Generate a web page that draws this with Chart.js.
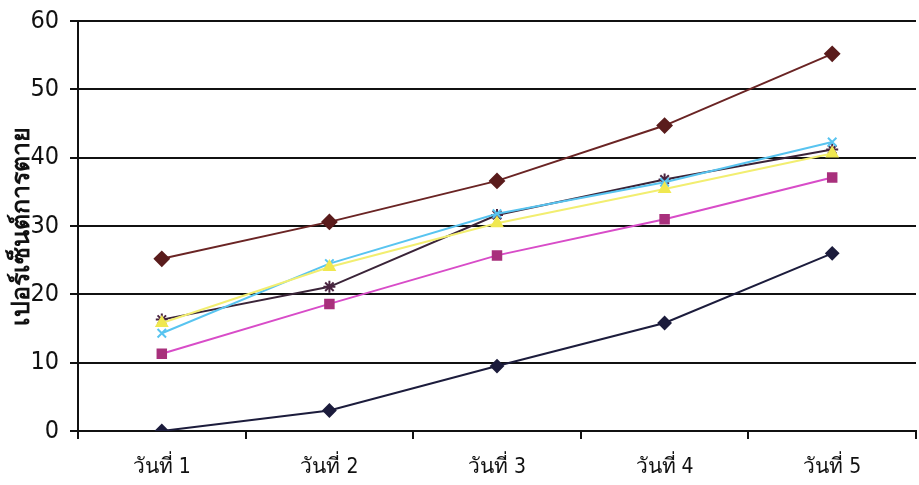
<!DOCTYPE html>
<html>
<head>
<meta charset="utf-8">
<script src="https://cdn.jsdelivr.net/npm/chart.js@4/dist/chart.umd.min.js"></script>
<style>
  html, body { margin: 0; padding: 0; background: #fff; overflow: hidden; }
  .wrap { position: relative; width: 925px; height: 485px; }
</style>
</head>
<body>
<div class="wrap"><canvas id="chart"></canvas></div>
<script>
// วันที่ 1-5, เปอร์เซ็นต์การตายของแต่ละชุด
const DAYS = ["วันที่ 1", "วันที่ 2", "วันที่ 3", "วันที่ 4", "วันที่ 5"];
const Y_TICKS = [0, 10, 20, 30, 40, 50, 60];

const SERIES_NAVY = [0, 3, 9.5, 15.8, 26];
const SERIES_MAGENTA = [11.3, 18.6, 25.7, 31, 37.1];
const SERIES_YELLOW = [15.8, 24, 30.4, 35.4, 40.6];
const SERIES_CYAN = [14.3, 24.5, 31.8, 36.4, 42.3];
const SERIES_PURPLE = [16.3, 21.1, 31.6, 36.8, 41.2];
const SERIES_BROWN = [25.2, 30.6, 36.6, 44.7, 55.2];

const NUM_FONT = "'DejaVu Sans Condensed', 'Liberation Sans Narrow', sans-serif";
const THAI_FONT = "'DejaVu Sans Condensed', 'Noto Sans', sans-serif";

function line(data, color, pointColor, style, radius) {
  return {
    data,
    borderColor: color,
    backgroundColor: pointColor,
    pointBorderColor: pointColor,
    pointBackgroundColor: pointColor,
    pointStyle: style,
    pointRadius: radius,
    pointBorderWidth: 2,
    borderWidth: 2,
    tension: 0,
  };
}

new Chart(document.getElementById("chart"), {
  type: "line",
  data: {
    labels: DAYS,
    datasets: [
      line(SERIES_NAVY, "#1c1c3c", "#1c1c3c", "rectRot", 6),
      line(SERIES_MAGENTA, "#d84cc8", "#a8307c", "rect", 6),
      line(SERIES_YELLOW, "#f2ee70", "#f0e850", "triangle", 6),
      line(SERIES_CYAN, "#58c4f0", "#58c4f0", "crossRot", 6),
      line(SERIES_PURPLE, "#3a2438", "#4a2440", "star", 6),
      line(SERIES_BROWN, "#6a2424", "#5a1c1c", "rectRot", 7),
    ],
  },
  options: {
    responsive: true,
    maintainAspectRatio: false,
    animation: false,
    layout: { padding: { top: 21, right: 0, bottom: 0, left: 0 } },
    plugins: {
      legend: { display: false },
      tooltip: { enabled: false },
    },
    scales: {
      x: {
        type: "category",
        offset: true,
        grid: {
          offset: true,
          drawOnChartArea: false,
          drawTicks: true,
          tickLength: 8,
          color: "#111",
          lineWidth: 2,
        },
        border: { color: "#111", width: 2 },
        ticks: {
          color: "#111",
          padding: 16,
          font: { family: THAI_FONT, size: 21 },
        },
        afterFit: (axis) => { axis.height = 54; },
      },
      y: {
        min: 0,
        max: 60,
        afterBuildTicks: (axis) => { axis.ticks = Y_TICKS.map(v => ({ value: v })); },
        grid: {
          color: (ctx) => ctx.tick && ctx.tick.value === 0 ? "rgba(0,0,0,0)" : "#111",
          lineWidth: 2,
          tickLength: 8,
          tickColor: "#111",
        },
        border: { color: "#111", width: 2 },
        ticks: {
          color: "#111",
          padding: 11,
          font: { family: NUM_FONT, size: 25, lineHeight: 0.8 },
        },
        title: {
          display: true,
          text: "เปอร์เซ็นต์การตาย",
          color: "#111",
          padding: { top: 7, bottom: 0 },
          font: { family: THAI_FONT, size: 25, weight: "bold" },
        },
        afterFit: (axis) => { axis.width = 78; },
      },
    },
  },
});
</script>
</body>
</html>
